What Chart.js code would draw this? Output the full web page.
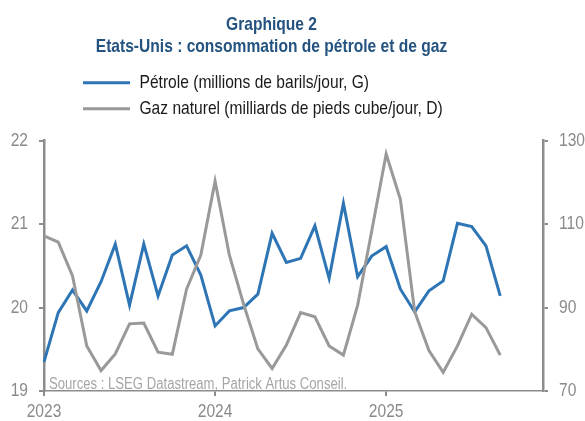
<!DOCTYPE html>
<html>
<head>
<meta charset="utf-8">
<script src="https://cdn.jsdelivr.net/npm/chart.js@4"></script>
<style>
  html, body { margin: 0; padding: 0; background: #ffffff; }
  #wrap { width: 585px; height: 421px; position: relative; }
</style>
</head>
<body>
<div id="wrap"><canvas id="c" width="585" height="421"></canvas></div>
<script>
// ---- Data ----
const months = [
  '2023-01','2023-02','2023-03','2023-04','2023-05','2023-06','2023-07','2023-08','2023-09','2023-10','2023-11','2023-12',
  '2024-01','2024-02','2024-03','2024-04','2024-05','2024-06','2024-07','2024-08','2024-09','2024-10','2024-11','2024-12',
  '2025-01','2025-02','2025-03','2025-04','2025-05','2025-06','2025-07','2025-08','2025-09','2025-10','2025-11','2025-12'
];
const yearLabels = ['2023', '2024', '2025'];
const petrole = [19.35,19.94,20.21,19.96,20.31,20.76,20.03,20.76,20.14,20.63,20.74,20.39,
                 19.78,19.96,20.00,20.16,20.89,20.54,20.59,20.98,20.35,21.25,20.37,20.62,
                 20.73,20.22,19.95,20.20,20.32,21.01,20.97,20.74,20.14];
const gaz = [107.2,105.7,97.6,80.8,74.9,78.9,86.1,86.3,79.3,78.8,94.4,102.6,
             120.3,102.6,90.8,80.1,75.4,81.0,88.8,87.8,80.8,78.6,90.6,108.6,
             126.8,115.9,89.0,79.7,74.5,80.8,88.4,85.2,78.6];
const seriesNames = ['Pétrole (millions de barils/jour, G)', 'Gaz naturel (milliards de pieds cube/jour, D)'];
const titleLines = ['Graphique 2', 'Etats-Unis : consommation de pétrole et de gaz'];
const sourceText = 'Sources : LSEG Datastream, Patrick Artus Conseil.';
const leftTicks = [19, 22, 1];
const rightTicks = [70, 130, 20];

// ---- Styles ----
const FONT = "'Liberation Sans', Arial, sans-serif";
const NARROW = 0.82; // emulate an Arial Narrow-like condensed face
const AXIS = '#8c8c8c';
const TICKTXT = '#8a8a8a';

(function () {
  const origFill = CanvasRenderingContext2D.prototype.fillText;
  CanvasRenderingContext2D.prototype.fillText = function (t, x, y, mw) {
    const w = this.measureText(t).width * NARROW;
    const m = (mw !== undefined && mw !== null) ? Math.min(mw, w) : w;
    return origFill.call(this, t, x, y, m);
  };
})();

const spacer = {
  id: 'spacer',
  position: 'top', weight: 0, fullSize: true, options: {},
  top: 0, left: 0, right: 0, bottom: 0, width: 0, height: 0,
  update(maxWidth) { this.width = maxWidth; this.height = 12.4; },
  isHorizontal() { return true; },
  draw() {}
};

const extras = {
  id: 'extras',
  beforeInit(chart) { Chart.layouts.addBox(chart, spacer); },
  afterLayout(chart) {
    if (chart.titleBlock) { chart.titleBlock.right = chart.titleBlock.left + 543; }
    if (chart.legend) { chart.legend.left = 76; }
  },
  afterDraw(chart) {
    const ctx = chart.ctx;
    ctx.save();
    ctx.font = "16px " + FONT;
    ctx.fillStyle = '#a6a6a6';
    ctx.textBaseline = 'alphabetic';
    ctx.textAlign = 'left';
    ctx.fillText(sourceText, 49, 389);
    ctx.restore();
  }
};

new Chart(document.getElementById('c'), {
  type: 'line',
  data: {
    labels: months,
    datasets: [
      { label: seriesNames[0], data: petrole, yAxisID: 'yL', borderColor: '#2e75b6', backgroundColor: '#2e75b6',
        borderWidth: 3, pointRadius: 0, tension: 0, order: 1 },
      { label: seriesNames[1], data: gaz, yAxisID: 'yR', borderColor: '#999999', backgroundColor: '#999999',
        borderWidth: 3, pointRadius: 0, tension: 0, order: 0 }
    ]
  },
  options: {
    responsive: false,
    animation: false,
    layout: { padding: 0 },
    plugins: {
      tooltip: { enabled: false },
      title: {
        display: true,
        text: titleLines,
        color: '#24537f',
        font: { family: FONT, size: 19, weight: 'bold', lineHeight: 1.158 },
        padding: { top: 14, bottom: 8.3 }
      },
      legend: {
        display: true,
        position: 'top',
        align: 'start',
        labels: {
          color: '#1a1a1a',
          font: { family: FONT, size: 19 },
          boxWidth: 47,
          boxHeight: 3,
          padding: 7,
          sort: (a, b) => a.datasetIndex - b.datasetIndex,
          generateLabels(chart) {
            return Chart.defaults.plugins.legend.labels.generateLabels(chart).map(it => {
              it.lineWidth = 0; it.fillStyle = it.strokeStyle; return it;
            });
          }
        }
      }
    },
    scales: {
      x: {
        type: 'category',
        offset: false,
        afterFit(s) { s.height = 30; },
        border: { display: true, color: AXIS, width: 1.5 },
        grid: {
          drawOnChartArea: false, drawTicks: true, tickLength: 5, lineWidth: 2,
          tickColor: (c) => (c.index % 12 === 0 ? AXIS : 'rgba(0,0,0,0)')
        },
        ticks: {
          autoSkip: false, maxRotation: 0, color: TICKTXT, padding: 4,
          font: { family: FONT, size: 19 },
          callback: (v, i) => (i % 12 === 0 ? yearLabels[i / 12] : '')
        }
      },
      yL: {
        position: 'left',
        min: leftTicks[0], max: leftTicks[1],
        afterFit(s) { s.width = 44; },
        border: { display: true, color: AXIS, width: 2.5 },
        grid: { drawOnChartArea: false, drawTicks: true, tickLength: 5, color: AXIS, lineWidth: 2 },
        ticks: { stepSize: leftTicks[2], color: TICKTXT, padding: 11, font: { family: FONT, size: 19 } }
      },
      yR: {
        position: 'right',
        min: rightTicks[0], max: rightTicks[1],
        afterFit(s) { s.width = 42; },
        border: { display: true, color: AXIS, width: 2.5 },
        grid: { drawOnChartArea: false, drawTicks: true, tickLength: 5, color: AXIS, lineWidth: 2 },
        ticks: { stepSize: rightTicks[2], color: TICKTXT, padding: 11, font: { family: FONT, size: 19 } }
      }
    }
  },
  plugins: [extras]
});
</script>
</body>
</html>
